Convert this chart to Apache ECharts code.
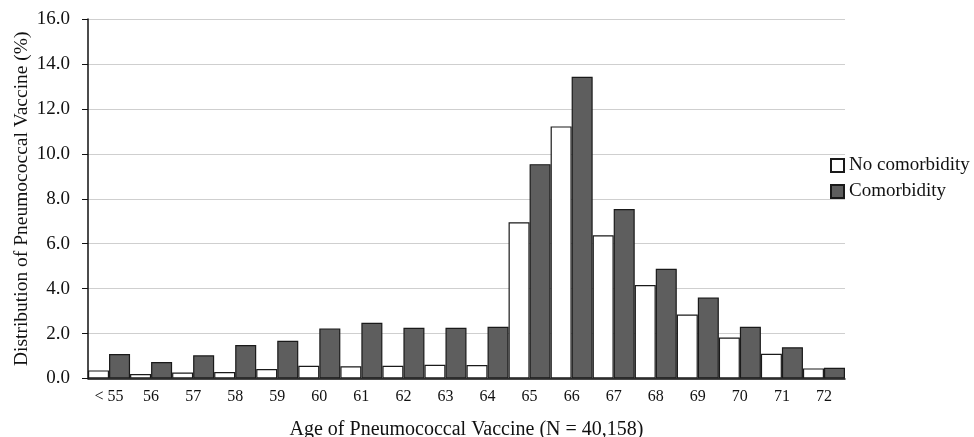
<!DOCTYPE html>
<html>
<head>
<meta charset="utf-8">
<script src="https://cdn.jsdelivr.net/npm/echarts@6/dist/echarts.min.js"></script>
<style>
html,body{margin:0;padding:0;background:#fff;}
#chart{width:974px;height:437px;}
</style>
</head>
<body>
<div id="chart"></div>
<script>
var categories = ['< 55','56','57','58','59','60','61','62','63','64','65','66','67','68','69','70','71','72'];
var noComorbidity = [0.36,0.20,0.27,0.29,0.42,0.57,0.54,0.57,0.61,0.60,6.95,11.22,6.37,4.16,2.85,1.82,1.10,0.45];
var comorbidity = [1.09,0.73,1.03,1.49,1.68,2.23,2.48,2.26,2.26,2.30,9.54,13.43,7.54,4.88,3.60,2.30,1.39,0.48];
var seriesNames = ['No comorbidity','Comorbidity'];
var yTitle = 'Distribution of Pneumococcal Vaccine (%)';
var xTitle = 'Age of Pneumococcal Vaccine (N = 40,158)';

var FONT = '"Liberation Serif", "Times New Roman", serif';
var chart = echarts.init(document.getElementById('chart'), null, {renderer:'canvas'});
chart.setOption({
  backgroundColor: '#ffffff',
  animation: false,
  textStyle: {fontFamily: FONT, color: '#111'},
  grid: {left: 88, right: 129, top: 19, bottom: 58.5, containLabel: false, outerBoundsMode: 'none'},
  legend: {
    orient: 'vertical',
    left: 830, top: 156,
    padding: 0,
    itemWidth: 13, itemHeight: 13, itemGap: 7,
    icon: 'rect',
    textStyle: {fontFamily: FONT, fontSize: 19, color: '#111'},
    data: seriesNames
  },
  xAxis: {
    type: 'category',
    data: categories,
    name: xTitle,
    nameLocation: 'middle',
    nameGap: 41,
    nameMoveOverlap: false,
    nameTextStyle: {fontFamily: FONT, fontSize: 20, color: '#111'},
    axisLine: {show: true, lineStyle: {color: '#111', width: 1.5}},
    axisTick: {show: false},
    axisLabel: {fontFamily: FONT, fontSize: 16, color: '#111', margin: 10},
    splitLine: {show: false}
  },
  yAxis: {
    type: 'value',
    min: 0, max: 16, interval: 2,
    name: yTitle,
    nameLocation: 'middle',
    nameGap: 56,
    nameMoveOverlap: false,
    nameTextStyle: {fontFamily: FONT, fontSize: 19.5, color: '#111'},
    axisLine: {show: true, lineStyle: {color: '#111', width: 1.5}},
    axisTick: {show: true, inside: false, length: 6, lineStyle: {color: '#111'}},
    axisLabel: {fontFamily: FONT, fontSize: 19, color: '#111', margin: 18,
      formatter: function(v){ return v.toFixed(1); }},
    splitLine: {show: true, lineStyle: {color: '#cfcfcf', width: 1.2}}
  },
  series: [
    {
      name: seriesNames[0], type: 'bar', data: noComorbidity,
      barGap: '0%', barCategoryGap: '0%',
      itemStyle: {color: '#ffffff', borderColor: '#1a1a1a', borderWidth: 1.2}
    },
    {
      name: seriesNames[1], type: 'bar', data: comorbidity,
      barGap: '0%', barCategoryGap: '0%',
      itemStyle: {color: '#5e5e5e', borderColor: '#1a1a1a', borderWidth: 1.2}
    }
  ]
});
</script>
</body>
</html>
